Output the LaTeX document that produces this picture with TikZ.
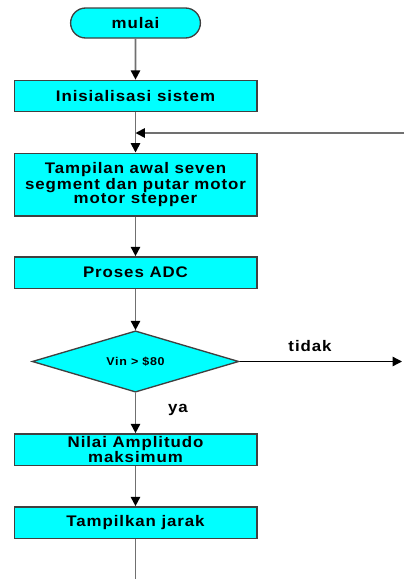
\documentclass[tikz,border=0pt]{standalone}
\usepackage{fontspec}
\newfontfamily\flowfont{Liberation Sans}[FakeStretch=1.1, LetterSpace=6]
\definecolor{boxfill}{HTML}{00FFFF}
\definecolor{boxline}{HTML}{404040}
\definecolor{linegray}{HTML}{707070}
\usetikzlibrary{shapes.geometric, shapes.misc, arrows.meta}
\tikzset{
  box/.style={
    draw=boxline, fill=boxfill, line width=1pt,
    minimum width=182pt, minimum height=#1, inner sep=1pt,
    font=\flowfont\fontsize{11.5}{10.2}\selectfont\bfseries, align=center
  },
  box/.default=23.5pt,
  term/.style={
    draw=boxline, fill=boxfill, line width=1pt, rounded rectangle,
    minimum width=104pt, minimum height=22.5pt,
    font=\flowfont\fontsize{11.5}{10.2}\selectfont\bfseries
  },
  cond/.style={
    draw=boxline, fill=boxfill, line width=1pt, diamond, aspect=3.4,
    minimum width=155pt, minimum height=46pt, inner sep=0pt,
    font=\flowfont\fontsize{8.5}{9}\selectfont\bfseries
  },
  arr/.style={-{Triangle[length=7pt,width=7pt,color=black]}, line width=1.3pt, draw=linegray},
  lbl/.style={font=\flowfont\fontsize{11.5}{10.2}\selectfont\bfseries},
}
\begin{document}
\begin{tikzpicture}[x=0.75pt, y=-0.75pt]
  \useasboundingbox (0,0) rectangle (404,579);

  \node[term] (mulai) at (135.5,23) {mulai};
  \node[box] (init) at (135.5,96) {Inisialisasi sistem};
  \node[box=47pt] (tampil) at (135.5,184.5)
    {Tampilan awal seven\\segment dan putar motor\\motor stepper};
  \node[box] (adc) at (135.5,272.5) {Proses ADC};
  \node[cond] (cek) at (135.5,361.5) {Vin > \$80};
  \node[box] (amp) at (135.5,449.5) {Nilai Amplitudo\\maksimum};
  \node[box] (jarak) at (135.5,522.5) {Tampilkan jarak};

  \coordinate (balik) at (404,133);
  \coordinate (gabung) at (135.5,133);
  \coordinate (keluar) at (402,361.5);
  \coordinate (bawah) at (135.5,579);

  \draw[arr] (mulai) -- (init);
  \draw[arr] (init) -- (tampil);
  \draw[arr] (balik) -- (gabung);
  \draw[arr] (tampil) -- (adc);
  \draw[arr] (adc) -- (cek);
  \draw[arr] (cek) -- (amp);
  \draw[arr, draw=black, line width=1pt] (cek) -- (keluar);
  \draw[arr] (amp) -- (jarak);
  \draw[arr, -] (jarak) -- (bawah);

  \node[lbl] (tidak) at (310,346) {tidak};
  \node[lbl] (ya) at (178,410) {ya};
\end{tikzpicture}
\end{document}
